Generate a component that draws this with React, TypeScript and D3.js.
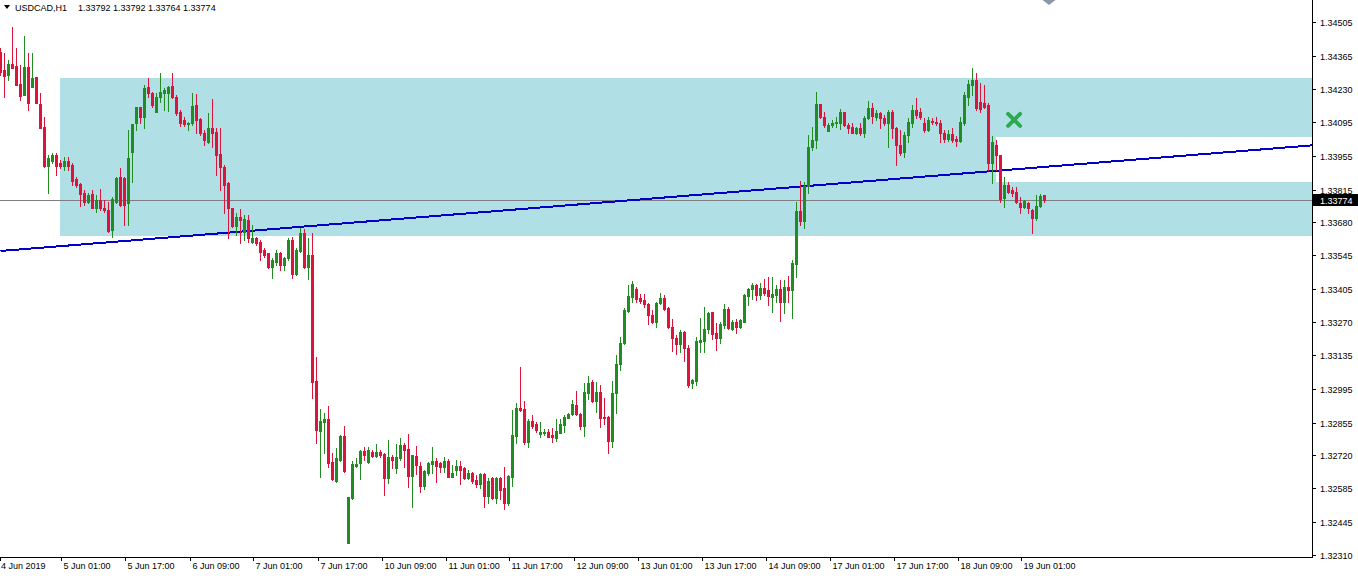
import React from 'react';
import * as d3 from 'd3';

const WIDTH = 1358;
const HEIGHT = 576;
const PLOT_RIGHT = 1312;
const PLOT_BOTTOM = 557;

const symbolName = 'USDCAD,H1';
const lastBarText = ['1.33792', '1.33792', '1.33764', '1.33774'];
const currentPrice = 1.33774;

const priceTicks = [1.34505, 1.34365, 1.3423, 1.34095, 1.33955, 1.33815, 1.3368, 1.33545, 1.33405, 1.3327, 1.33135, 1.32995, 1.32855, 1.3272, 1.32585, 1.32445, 1.3231];
const priceTickLabels = ['1.34505', '1.34365', '1.34230', '1.34095', '1.33955', '1.33815', '1.33680', '1.33545', '1.33405', '1.33270', '1.33135', '1.32995', '1.32855', '1.32720', '1.32585', '1.32445', '1.32310'];

const firstDateLabel = '4 Jun 2019';
const timeLabels = ['5 Jun 01:00', '5 Jun 17:00', '6 Jun 09:00', '7 Jun 01:00', '7 Jun 17:00', '10 Jun 09:00', '11 Jun 01:00', '11 Jun 17:00', '12 Jun 09:00', '13 Jun 01:00', '13 Jun 17:00', '14 Jun 09:00', '17 Jun 01:00', '17 Jun 17:00', '18 Jun 09:00', '19 Jun 01:00'];
const timeLabelBars = [16, 32, 48, 64, 80, 96, 112, 128, 144, 160, 176, 192, 208, 224, 240, 256];

// hourly OHLC, 4 Jun 09:00 .. 19 Jun 06:00
const opens = [
  1.34382, 1.34308, 1.34287, 1.34333, 1.34324, 1.34251, 1.34204, 1.34320, 1.34238, 1.34279,
  1.34168, 1.34073, 1.33912, 1.33933, 1.33957, 1.33925, 1.33912, 1.33933, 1.33916, 1.33859,
  1.33839, 1.33802, 1.33764, 1.33798, 1.33739, 1.33772, 1.33739, 1.33731, 1.33649, 1.33764,
  1.33867, 1.33863, 1.33760, 1.33970, 1.34090, 1.34155, 1.34114, 1.34238, 1.34213, 1.34135,
  1.34196, 1.34213, 1.34213, 1.34242, 1.34196, 1.34135, 1.34102, 1.34086, 1.34090, 1.34163,
  1.34106, 1.34049, 1.34011, 1.34069, 1.34053, 1.33962, 1.33908, 1.33843, 1.33739, 1.33665,
  1.33702, 1.33641, 1.33690, 1.33600, 1.33616, 1.33600, 1.33566, 1.33554, 1.33496, 1.33517,
  1.33554, 1.33504, 1.33533, 1.33608, 1.33468, 1.33562, 1.33637, 1.33496, 1.33545, 1.33027,
  1.32821, 1.32858, 1.32870, 1.32694, 1.32615, 1.32702, 1.32800, 1.32360, 1.32545, 1.32677,
  1.32690, 1.32739, 1.32694, 1.32735, 1.32718, 1.32735, 1.32727, 1.32628, 1.32714, 1.32669,
  1.32710, 1.32764, 1.32747, 1.32636, 1.32718, 1.32677, 1.32595, 1.32649, 1.32686, 1.32698,
  1.32690, 1.32673, 1.32698, 1.32632, 1.32661, 1.32677, 1.32669, 1.32628, 1.32649, 1.32619,
  1.32603, 1.32644, 1.32553, 1.32628, 1.32545, 1.32628, 1.32586, 1.32525, 1.32632, 1.32800,
  1.32916, 1.32912, 1.32776, 1.32862, 1.32850, 1.32808, 1.32812, 1.32817, 1.32804, 1.32792,
  1.32812, 1.32845, 1.32874, 1.32891, 1.32928, 1.32891, 1.32841, 1.32978, 1.33023, 1.32945,
  1.32982, 1.32878, 1.32878, 1.32780, 1.32978, 1.33098, 1.33184, 1.33315, 1.33373, 1.33406,
  1.33369, 1.33361, 1.33345, 1.33298, 1.33270, 1.33349, 1.33369, 1.33327, 1.33249, 1.33204,
  1.33180, 1.33229, 1.33163, 1.33019, 1.33027, 1.33188, 1.33192, 1.33241, 1.33311, 1.33225,
  1.33204, 1.33257, 1.33323, 1.33241, 1.33270, 1.33249, 1.33270, 1.33377, 1.33406, 1.33422,
  1.33381, 1.33410, 1.33402, 1.33373, 1.33381, 1.33406, 1.33353, 1.33414, 1.33402, 1.33509,
  1.33727, 1.33686, 1.33830, 1.33990, 1.34019, 1.34168, 1.34114, 1.34057, 1.34081, 1.34090,
  1.34090, 1.34135, 1.34081, 1.34073, 1.34049, 1.34069, 1.34049, 1.34110, 1.34151, 1.34114,
  1.34131, 1.34110, 1.34090, 1.34135, 1.34069, 1.33998, 1.33970, 1.34040, 1.34090, 1.34143,
  1.34135, 1.34090, 1.34061, 1.34098, 1.34094, 1.34090, 1.34049, 1.34024, 1.34045, 1.34024,
  1.34015, 1.34090, 1.34196, 1.34246, 1.34267, 1.34176, 1.34172, 1.34163, 1.33925, 1.33998,
  1.33957, 1.33780, 1.33834, 1.33814, 1.33806, 1.33760, 1.33743, 1.33760, 1.33731, 1.33698,
  1.33747, 1.33792,
];

const highs = [
  1.34398, 1.34378, 1.34349, 1.34485, 1.34398, 1.34328, 1.34447, 1.34378, 1.34378, 1.34279,
  1.34213, 1.34114, 1.33957, 1.33966, 1.33966, 1.33937, 1.33949, 1.33949, 1.33925, 1.33867,
  1.33843, 1.33814, 1.33802, 1.33814, 1.33793, 1.33818, 1.33772, 1.33764, 1.33785, 1.33867,
  1.33904, 1.33867, 1.34061, 1.34086, 1.34155, 1.34155, 1.34246, 1.34275, 1.34217, 1.34213,
  1.34296, 1.34234, 1.34242, 1.34296, 1.34204, 1.34143, 1.34114, 1.34094, 1.34213, 1.34209,
  1.34110, 1.34061, 1.34131, 1.34188, 1.34069, 1.34069, 1.33916, 1.33847, 1.33739, 1.33719,
  1.33735, 1.33710, 1.33710, 1.33669, 1.33620, 1.33608, 1.33575, 1.33554, 1.33533, 1.33566,
  1.33558, 1.33537, 1.33616, 1.33620, 1.33575, 1.33657, 1.33653, 1.33616, 1.33637, 1.33126,
  1.32912, 1.32896, 1.32924, 1.32731, 1.32751, 1.32804, 1.32841, 1.32549, 1.32698, 1.32710,
  1.32743, 1.32755, 1.32755, 1.32743, 1.32768, 1.32743, 1.32731, 1.32784, 1.32722, 1.32768,
  1.32792, 1.32772, 1.32808, 1.32722, 1.32760, 1.32694, 1.32661, 1.32694, 1.32755, 1.32710,
  1.32694, 1.32714, 1.32706, 1.32681, 1.32702, 1.32698, 1.32673, 1.32661, 1.32653, 1.32640,
  1.32649, 1.32649, 1.32628, 1.32632, 1.32632, 1.32632, 1.32673, 1.32640, 1.32908, 1.32937,
  1.33085, 1.32945, 1.32870, 1.32887, 1.32858, 1.32858, 1.32829, 1.32829, 1.32833, 1.32870,
  1.32870, 1.32887, 1.32896, 1.32949, 1.32986, 1.32896, 1.33019, 1.33047, 1.33031, 1.33023,
  1.33010, 1.32957, 1.32883, 1.33027, 1.33134, 1.33208, 1.33327, 1.33422, 1.33439, 1.33414,
  1.33386, 1.33386, 1.33349, 1.33319, 1.33353, 1.33390, 1.33381, 1.33332, 1.33282, 1.33216,
  1.33237, 1.33233, 1.33175, 1.33035, 1.33208, 1.33286, 1.33332, 1.33311, 1.33311, 1.33266,
  1.33270, 1.33345, 1.33332, 1.33278, 1.33282, 1.33282, 1.33386, 1.33410, 1.33431, 1.33426,
  1.33431, 1.33447, 1.33455, 1.33455, 1.33422, 1.33443, 1.33443, 1.33459, 1.33525, 1.33764,
  1.33851, 1.33847, 1.34040, 1.34073, 1.34217, 1.34168, 1.34135, 1.34090, 1.34102, 1.34114,
  1.34147, 1.34135, 1.34090, 1.34090, 1.34073, 1.34090, 1.34118, 1.34180, 1.34172, 1.34143,
  1.34135, 1.34122, 1.34143, 1.34143, 1.34073, 1.34061, 1.34053, 1.34110, 1.34163, 1.34192,
  1.34151, 1.34110, 1.34114, 1.34110, 1.34114, 1.34102, 1.34061, 1.34061, 1.34069, 1.34036,
  1.34114, 1.34217, 1.34267, 1.34316, 1.34296, 1.34255, 1.34246, 1.34172, 1.34036, 1.34019,
  1.33957, 1.33867, 1.33847, 1.33826, 1.33826, 1.33785, 1.33772, 1.33764, 1.33735, 1.33793,
  1.33798, 1.33792,
];

const lows = [
  1.34287, 1.34196, 1.34267, 1.34316, 1.34246, 1.34184, 1.34204, 1.34143, 1.34238, 1.34172,
  1.34069, 1.33908, 1.33802, 1.33925, 1.33875, 1.33904, 1.33896, 1.33896, 1.33834, 1.33826,
  1.33747, 1.33751, 1.33760, 1.33739, 1.33723, 1.33731, 1.33723, 1.33641, 1.33620, 1.33760,
  1.33747, 1.33669, 1.33669, 1.33847, 1.34061, 1.34090, 1.34069, 1.34196, 1.34155, 1.34135,
  1.34176, 1.34143, 1.34139, 1.34192, 1.34122, 1.34077, 1.34077, 1.34061, 1.34081, 1.34049,
  1.34040, 1.33998, 1.34007, 1.33990, 1.33875, 1.33814, 1.33719, 1.33616, 1.33661, 1.33628,
  1.33596, 1.33608, 1.33600, 1.33596, 1.33587, 1.33525, 1.33537, 1.33492, 1.33451, 1.33504,
  1.33484, 1.33484, 1.33525, 1.33451, 1.33463, 1.33558, 1.33492, 1.33447, 1.32957, 1.32772,
  1.32632, 1.32731, 1.32673, 1.32619, 1.32611, 1.32698, 1.32653, 1.32360, 1.32541, 1.32673,
  1.32623, 1.32702, 1.32690, 1.32714, 1.32714, 1.32714, 1.32557, 1.32607, 1.32669, 1.32649,
  1.32702, 1.32673, 1.32591, 1.32508, 1.32644, 1.32570, 1.32582, 1.32640, 1.32649, 1.32611,
  1.32653, 1.32653, 1.32632, 1.32632, 1.32640, 1.32603, 1.32623, 1.32623, 1.32607, 1.32591,
  1.32586, 1.32508, 1.32525, 1.32541, 1.32525, 1.32541, 1.32500, 1.32516, 1.32595, 1.32772,
  1.32904, 1.32768, 1.32755, 1.32833, 1.32817, 1.32796, 1.32804, 1.32796, 1.32776, 1.32780,
  1.32812, 1.32817, 1.32874, 1.32887, 1.32887, 1.32829, 1.32800, 1.32953, 1.32941, 1.32900,
  1.32837, 1.32850, 1.32731, 1.32755, 1.32896, 1.33072, 1.33180, 1.33311, 1.33353, 1.33353,
  1.33349, 1.33332, 1.33262, 1.33266, 1.33249, 1.33345, 1.33319, 1.33245, 1.33151, 1.33139,
  1.33147, 1.33110, 1.33002, 1.32998, 1.33010, 1.33147, 1.33147, 1.33225, 1.33200, 1.33155,
  1.33184, 1.33245, 1.33241, 1.33237, 1.33225, 1.33245, 1.33270, 1.33340, 1.33365, 1.33361,
  1.33365, 1.33381, 1.33340, 1.33311, 1.33353, 1.33274, 1.33307, 1.33353, 1.33286, 1.33455,
  1.33669, 1.33657, 1.33802, 1.33978, 1.33986, 1.34110, 1.34073, 1.34057, 1.34073, 1.34073,
  1.34065, 1.34077, 1.34049, 1.34049, 1.34045, 1.34040, 1.34032, 1.34106, 1.34090, 1.34102,
  1.34069, 1.34081, 1.33990, 1.34028, 1.33916, 1.33957, 1.33949, 1.34011, 1.34073, 1.34110,
  1.34106, 1.34053, 1.34057, 1.34086, 1.34081, 1.34011, 1.34011, 1.34015, 1.34011, 1.33994,
  1.34011, 1.34081, 1.34163, 1.34204, 1.34143, 1.34135, 1.34151, 1.33896, 1.33843, 1.33896,
  1.33764, 1.33743, 1.33802, 1.33789, 1.33760, 1.33719, 1.33739, 1.33719, 1.33637, 1.33690,
  1.33743, 1.33764,
];

const closes = [
  1.34300, 1.34283, 1.34333, 1.34316, 1.34246, 1.34200, 1.34320, 1.34172, 1.34275, 1.34172,
  1.34069, 1.33912, 1.33945, 1.33957, 1.33912, 1.33912, 1.33933, 1.33912, 1.33851, 1.33834,
  1.33798, 1.33764, 1.33793, 1.33739, 1.33772, 1.33739, 1.33731, 1.33645, 1.33776, 1.33863,
  1.33751, 1.33751, 1.33945, 1.34086, 1.34155, 1.34114, 1.34234, 1.34213, 1.34163, 1.34196,
  1.34217, 1.34225, 1.34238, 1.34196, 1.34131, 1.34090, 1.34086, 1.34090, 1.34159, 1.34102,
  1.34049, 1.34019, 1.34069, 1.34049, 1.33957, 1.33908, 1.33834, 1.33739, 1.33665, 1.33702,
  1.33690, 1.33694, 1.33616, 1.33616, 1.33596, 1.33558, 1.33545, 1.33496, 1.33525, 1.33554,
  1.33504, 1.33533, 1.33608, 1.33468, 1.33566, 1.33637, 1.33496, 1.33545, 1.33023, 1.32825,
  1.32862, 1.32870, 1.32690, 1.32623, 1.32710, 1.32800, 1.32657, 1.32549, 1.32686, 1.32686,
  1.32739, 1.32722, 1.32743, 1.32718, 1.32735, 1.32722, 1.32628, 1.32714, 1.32702, 1.32714,
  1.32764, 1.32743, 1.32636, 1.32722, 1.32681, 1.32595, 1.32657, 1.32690, 1.32698, 1.32677,
  1.32673, 1.32698, 1.32632, 1.32649, 1.32677, 1.32661, 1.32628, 1.32649, 1.32615, 1.32603,
  1.32644, 1.32553, 1.32615, 1.32545, 1.32628, 1.32578, 1.32525, 1.32636, 1.32804, 1.32916,
  1.32908, 1.32776, 1.32862, 1.32841, 1.32825, 1.32817, 1.32817, 1.32796, 1.32796, 1.32821,
  1.32850, 1.32878, 1.32891, 1.32933, 1.32891, 1.32841, 1.32982, 1.33019, 1.32945, 1.32982,
  1.32874, 1.32874, 1.32780, 1.32978, 1.33098, 1.33184, 1.33319, 1.33377, 1.33426, 1.33365,
  1.33357, 1.33345, 1.33298, 1.33270, 1.33349, 1.33369, 1.33323, 1.33249, 1.33204, 1.33180,
  1.33229, 1.33163, 1.33010, 1.33031, 1.33192, 1.33196, 1.33241, 1.33307, 1.33221, 1.33204,
  1.33262, 1.33323, 1.33245, 1.33270, 1.33249, 1.33278, 1.33381, 1.33406, 1.33422, 1.33381,
  1.33410, 1.33390, 1.33377, 1.33386, 1.33406, 1.33353, 1.33414, 1.33402, 1.33513, 1.33727,
  1.33686, 1.33830, 1.33990, 1.34019, 1.34168, 1.34114, 1.34081, 1.34081, 1.34090, 1.34094,
  1.34135, 1.34081, 1.34069, 1.34049, 1.34069, 1.34049, 1.34110, 1.34151, 1.34118, 1.34131,
  1.34110, 1.34090, 1.34135, 1.34069, 1.33998, 1.33966, 1.34040, 1.34094, 1.34143, 1.34122,
  1.34114, 1.34061, 1.34102, 1.34094, 1.34090, 1.34049, 1.34024, 1.34045, 1.34019, 1.34015,
  1.34094, 1.34204, 1.34251, 1.34267, 1.34151, 1.34147, 1.34155, 1.33925, 1.34011, 1.33957,
  1.33776, 1.33834, 1.33806, 1.33802, 1.33764, 1.33743, 1.33768, 1.33739, 1.33698, 1.33747,
  1.33789, 1.33774,
];

// objects on the chart (bar index / price anchors)
const zoneStartBar = 15;
const zoneSplitBar = 249;
const zoneTop = 1.34275;
const zoneBottom = 1.33624;
const gapTop = 1.34032;
const gapBottom = 1.33847;
const trendBars = [0, 300];
const trendPrices = [1.33562, 1.3396];
const crossBar = 253.4;
const crossPrice = 1.34102;

const BULL = '#228B22';
const BEAR = '#DC143C';
const ZONE = '#B0E0E6';
const FONT = '"Liberation Sans", Arial, sans-serif';

export default function App() {
  const x = d3.scaleLinear().domain([0, 261]).range([0.5, 1044.5]);
  const y = d3.scaleLinear().domain([1.3231, 1.34505]).range([555, 22]);
  const trend = d3.scaleLinear().domain(trendBars).range(trendPrices);
  const xEnd = x.invert(PLOT_RIGHT);

  const bars = opens.map((o, i) => ({ i, o, h: highs[i], l: lows[i], c: closes[i] }));

  const zoneRects = [
    { x0: x(zoneStartBar) - 0.5, x1: x(zoneSplitBar) - 0.5, top: zoneTop, bottom: zoneBottom },
    { x0: x(zoneSplitBar) - 0.5, x1: PLOT_RIGHT, top: zoneTop, bottom: gapTop },
    { x0: x(zoneSplitBar) - 0.5, x1: PLOT_RIGHT, top: gapBottom, bottom: zoneBottom },
  ];

  const cx = x(crossBar);
  const cy = y(crossPrice);
  const cs = 6;
  const curY = Math.round(y(currentPrice)) + 0.5;

  return (
    <div style={{ position: 'absolute', left: 0, top: 0, width: WIDTH, height: HEIGHT, background: '#fff' }}>
      <svg width={WIDTH} height={HEIGHT} style={{ display: 'block' }} fontFamily={FONT}>
        <rect x={0} y={0} width={WIDTH} height={HEIGHT} fill="#fff" />
        <defs>
          <clipPath id="plot">
            <rect x={0} y={0} width={PLOT_RIGHT} height={PLOT_BOTTOM} />
          </clipPath>
        </defs>
        <g clipPath="url(#plot)">
          {zoneRects.map((r, k) => (
            <rect
              key={k}
              x={r.x0}
              y={Math.round(y(r.top))}
              width={r.x1 - r.x0}
              height={Math.round(y(r.bottom)) - Math.round(y(r.top))}
              fill={ZONE}
            />
          ))}
          <line x1={0} x2={PLOT_RIGHT} y1={curY} y2={curY} stroke="#7f7f7f" strokeWidth={1} />
          <line
            x1={x(0)}
            y1={y(trend(0))}
            x2={PLOT_RIGHT}
            y2={y(trend(xEnd))}
            stroke="#0000CD"
            strokeWidth={2}
            shapeRendering="crispEdges"
          />
          {bars.map((b) => {
            const col = b.c >= b.o ? BULL : BEAR;
            const cxx = x(b.i);
            const hi = Math.round(y(Math.max(b.h, b.o, b.c)));
            const lo = Math.round(y(Math.min(b.l, b.o, b.c)));
            const bt = Math.round(y(Math.max(b.o, b.c)));
            const bb = Math.round(y(Math.min(b.o, b.c)));
            return (
              <g key={b.i} shapeRendering="crispEdges">
                <rect x={cxx - 0.5} y={hi} width={1} height={Math.max(1, lo - hi + 1)} fill={col} />
                <rect x={cxx - 1.5} y={bt} width={3} height={Math.max(1, bb - bt + 1)} fill={col} />
              </g>
            );
          })}
          <g stroke="#2DAA4F" strokeWidth={4} strokeLinecap="round">
            <line x1={cx - cs} y1={cy - cs} x2={cx + cs} y2={cy + cs} />
            <line x1={cx - cs} y1={cy + cs} x2={cx + cs} y2={cy - cs} />
          </g>
          <polygon points={`${x(261) - 2},0 ${x(261) + 11},0 ${x(261) + 4.5},5`} fill="#8a96aa" />
        </g>

        {/* title */}
        <polygon points="4,5 10,5 7,9" fill="#000" />
        <text x={15} y={11} fontSize={9} fill="#000">{symbolName}</text>
        <text x={78} y={11} fontSize={9} fill="#000">{lastBarText.join(' ')}</text>

        {/* price axis */}
        <line x1={PLOT_RIGHT + 0.5} x2={PLOT_RIGHT + 0.5} y1={0} y2={PLOT_BOTTOM + 0.5} stroke="#000" />
        {priceTicks.map((p, k) => {
          const ty = Math.round(y(p)) + 0.5;
          return (
            <g key={k}>
              <line x1={PLOT_RIGHT} x2={PLOT_RIGHT + 4} y1={ty} y2={ty} stroke="#000" />
              <text x={1320} y={ty + 3.5} fontSize={9} fill="#000">{priceTickLabels[k]}</text>
            </g>
          );
        })}
        <rect x={PLOT_RIGHT + 1} y={curY - 6.5} width={WIDTH - PLOT_RIGHT - 1} height={12} fill="#000" />
        <text x={1320} y={curY + 3.5} fontSize={9} fill="#fff">{currentPrice.toFixed(5)}</text>

        {/* time axis */}
        <line x1={0} x2={PLOT_RIGHT + 1} y1={PLOT_BOTTOM + 0.5} y2={PLOT_BOTTOM + 0.5} stroke="#000" />
        <line x1={0.5} x2={0.5} y1={PLOT_BOTTOM} y2={PLOT_BOTTOM + 4} stroke="#000" />
        <text x={1} y={569} fontSize={9} fill="#000">{firstDateLabel}</text>
        {timeLabels.map((t, k) => {
          const tx = Math.round(x(timeLabelBars[k]) - 3) + 0.5;
          return (
            <g key={t}>
              <line x1={tx} x2={tx} y1={PLOT_BOTTOM} y2={PLOT_BOTTOM + 4} stroke="#000" />
              <text x={tx + 2} y={569} fontSize={9} fill="#000">{t}</text>
            </g>
          );
        })}
      </svg>
    </div>
  );
}
